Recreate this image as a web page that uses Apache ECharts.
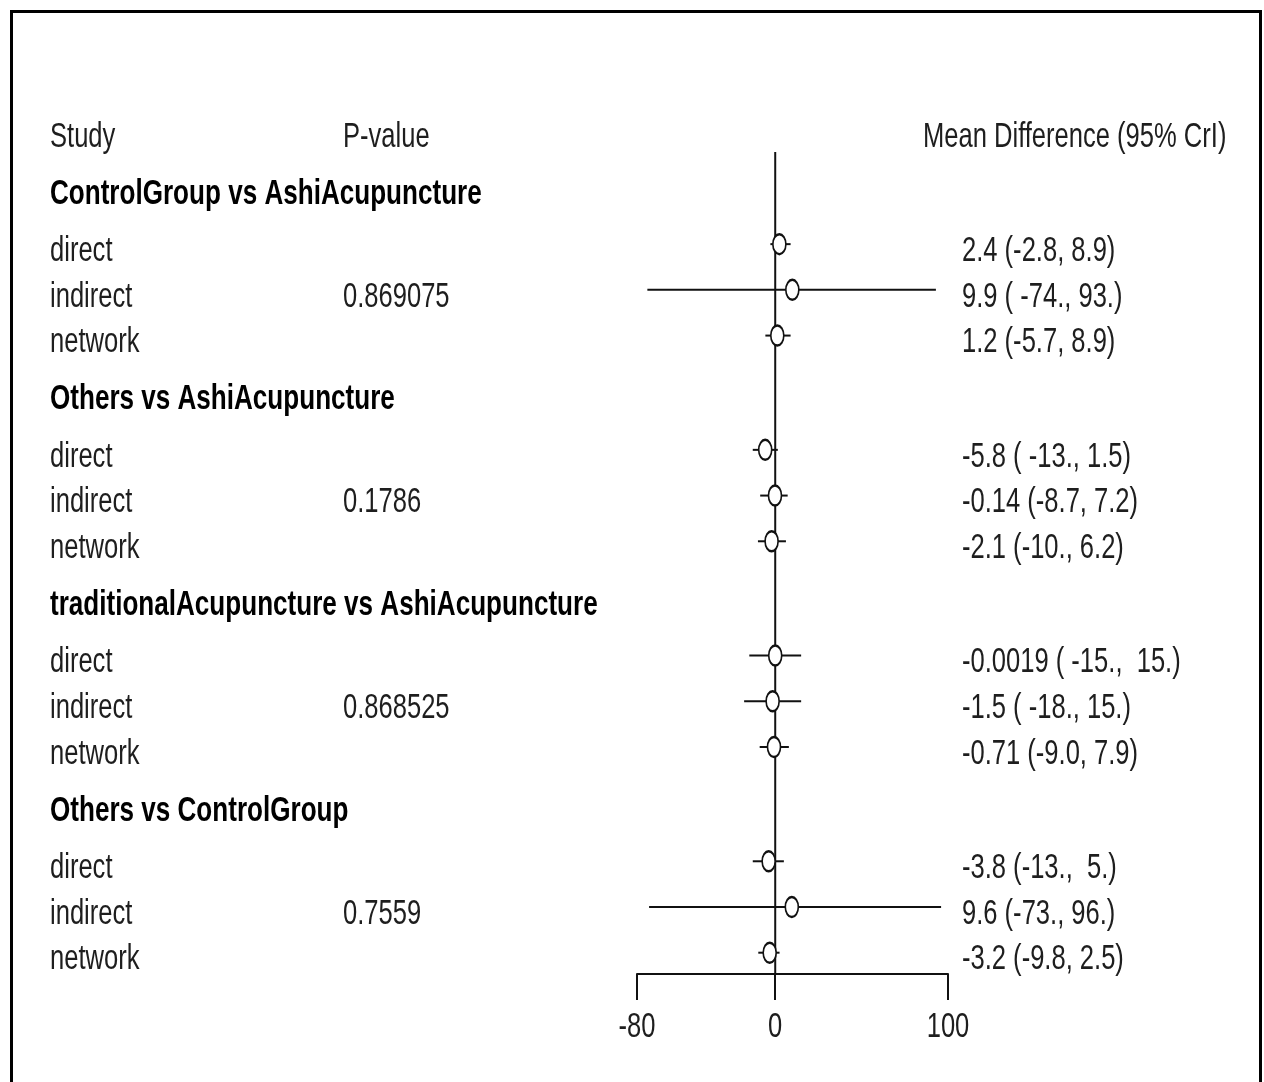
<!DOCTYPE html>
<html>
<head>
<meta charset="utf-8">
<script src="https://cdn.jsdelivr.net/npm/echarts@6/dist/echarts.min.js"></script>
<style>
  html, body { margin: 0; padding: 0; background: #fff; }
  #chart { width: 1264px; height: 1082px; }
</style>
</head>
<body>
<div id="chart"></div>
<script>
// Node-split comparisons: direct, indirect and network estimates
const comparisons = [
  'ControlGroup vs AshiAcupuncture',
  'Others vs AshiAcupuncture',
  'traditionalAcupuncture vs AshiAcupuncture',
  'Others vs ControlGroup'
];
const evidence = ['direct', 'indirect', 'network'];
const pValues = ['0.869075', '0.1786', '0.868525', '0.7559'];

// Mean difference and 95% credible interval per comparison (direct, indirect, network)
const meanDiff = [
  [2.4, 9.9, 1.2],
  [-5.8, -0.14, -2.1],
  [-0.0019, -1.5, -0.71],
  [-3.8, 9.6, -3.2]
];
const lower = [
  [-2.8, -74, -5.7],
  [-13, -8.7, -10],
  [-15, -18, -9.0],
  [-13, -73, -9.8]
];
const upper = [
  [8.9, 93, 8.9],
  [1.5, 7.2, 6.2],
  [15, 15, 7.9],
  [5, 96, 2.5]
];
const intervalText = [
  ['2.4 (-2.8, 8.9)', '9.9 ( -74., 93.)', '1.2 (-5.7, 8.9)'],
  ['-5.8 ( -13., 1.5)', '-0.14 (-8.7, 7.2)', '-2.1 (-10., 6.2)'],
  ['-0.0019 ( -15.,  15.)', '-1.5 ( -18., 15.)', '-0.71 (-9.0, 7.9)'],
  ['-3.8 (-13.,  5.)', '9.6 (-73., 96.)', '-3.2 (-9.8, 2.5)']
];
const xTicks = [-80, 0, 100];
const headers = ['Study', 'P-value', 'Mean Difference (95% CrI)'];

// ---- layout: row positions on the shared vertical scale ----
const GROUP_STEP = 4.5;
const titleRow = g => g * GROUP_STEP + 1.25;
const itemRow = (g, i) => g * GROUP_STEP + 2.5 + i;

const COL_STUDY = 50, COL_P = 343, COL_MD = 962, COL_MD_HEAD = 923;
const FONT = "'Liberation Sans', Arial, sans-serif";
const FONT_SIZE = 35;
const NARROW = 0.73;        // horizontal squeeze of regular lettering
const NARROW_BOLD = 0.745;  // horizontal squeeze of bold lettering
const TEXT_DY = 7;          // text sits a little below the marker row
const TXT = '#1e1e1e';

// text rows: [x column, row, text, bold]
const textRows = [];
textRows.push([COL_STUDY, 0, headers[0], 0]);
textRows.push([COL_P, 0, headers[1], 0]);
textRows.push([COL_MD_HEAD, 0, headers[2], 0]);
comparisons.forEach((c, g) => {
  textRows.push([COL_STUDY, titleRow(g), c, 1]);
  evidence.forEach((e, i) => {
    textRows.push([COL_STUDY, itemRow(g, i), e, 0]);
    textRows.push([COL_MD, itemRow(g, i), intervalText[g][i], 0]);
  });
  textRows.push([COL_P, itemRow(g, 1), pValues[g], 0]);
});

// estimate rows: [mean, lower, upper, row]
const estimates = [];
comparisons.forEach((c, g) => {
  evidence.forEach((e, i) => {
    estimates.push([meanDiff[g][i], lower[g][i], upper[g][i], itemRow(g, i)]);
  });
});

const Y_MIN = -0.5, Y_MAX = 18.466, REF_TOP = 0.485;
const yAxisBase = { type: 'value', inverse: true, min: Y_MIN, max: Y_MAX, show: false };

function narrowText(x, y, text, bold, align) {
  return {
    type: 'text',
    x: x, y: y,
    scaleX: bold ? NARROW_BOLD : NARROW,
    style: {
      text: text,
      fill: bold ? '#000' : TXT,
      fontSize: FONT_SIZE,
      fontWeight: bold ? 'bold' : 'normal',
      fontFamily: FONT,
      align: align || 'left',
      verticalAlign: 'middle'
    }
  };
}

const chart = echarts.init(document.getElementById('chart'), null, { renderer: 'canvas' });
chart.setOption({
  backgroundColor: '#ffffff',
  animation: false,
  grid: [
    { left: 0, right: 0, top: 107, bottom: 108 },
    { left: 637, right: 316, top: 107, bottom: 108 }
  ],
  xAxis: [
    { gridIndex: 0, type: 'value', min: 0, max: 1264, show: false },
    {
      gridIndex: 1, type: 'value', min: -80, max: 100,
      axisLine: { show: true, onZero: false, lineStyle: { color: '#111', width: 2 } },
      axisTick: { show: true, customValues: xTicks, length: 26, lineStyle: { color: '#111', width: 2 } },
      axisLabel: { show: false },
      splitLine: { show: false }
    }
  ],
  yAxis: [
    Object.assign({ gridIndex: 0 }, yAxisBase),
    Object.assign({ gridIndex: 1 }, yAxisBase)
  ],
  graphic: [{
    type: 'rect',
    shape: { x: 11.5, y: 11.5, width: 1249, height: 1100 },
    style: { fill: null, stroke: '#000', lineWidth: 3 },
    silent: true
  }],
  series: [
    {
      // table text
      type: 'custom',
      xAxisIndex: 0, yAxisIndex: 0,
      data: textRows,
      clip: false,
      renderItem: (params, api) => {
        const d = textRows[params.dataIndex];
        const p = api.coord([d[0], d[1]]);
        return narrowText(p[0], p[1] + TEXT_DY, d[2], d[3]);
      }
    },
    {
      // tick labels of the mean-difference axis
      type: 'custom',
      xAxisIndex: 1, yAxisIndex: 1,
      data: xTicks.map(v => [v, Y_MAX]),
      clip: false,
      renderItem: (params, api) => {
        const p = api.coord([api.value(0), api.value(1)]);
        return narrowText(p[0], p[1] + 53, String(xTicks[params.dataIndex]), 0, 'center');
      }
    },
    {
      // line of no effect
      type: 'line',
      xAxisIndex: 1, yAxisIndex: 1,
      data: [[0, REF_TOP], [0, Y_MAX]],
      symbol: 'none',
      lineStyle: { color: '#111', width: 2 },
      z: 1
    },
    {
      // credible intervals
      type: 'custom',
      xAxisIndex: 1, yAxisIndex: 1,
      data: estimates,
      clip: false,
      z: 2,
      renderItem: (params, api) => {
        const a = api.coord([api.value(1), api.value(3)]);
        const b = api.coord([api.value(2), api.value(3)]);
        return {
          type: 'line',
          shape: { x1: a[0], y1: a[1], x2: b[0], y2: b[1] },
          style: { stroke: '#111', lineWidth: 2 }
        };
      }
    },
    {
      // point estimates
      type: 'scatter',
      xAxisIndex: 1, yAxisIndex: 1,
      data: estimates.map(e => [e[0], e[3]]),
      symbol: 'circle',
      symbolSize: [13, 20],
      itemStyle: { color: '#fff', borderColor: '#111', borderWidth: 2, opacity: 1 },
      z: 3
    }
  ]
});
</script>
</body>
</html>
